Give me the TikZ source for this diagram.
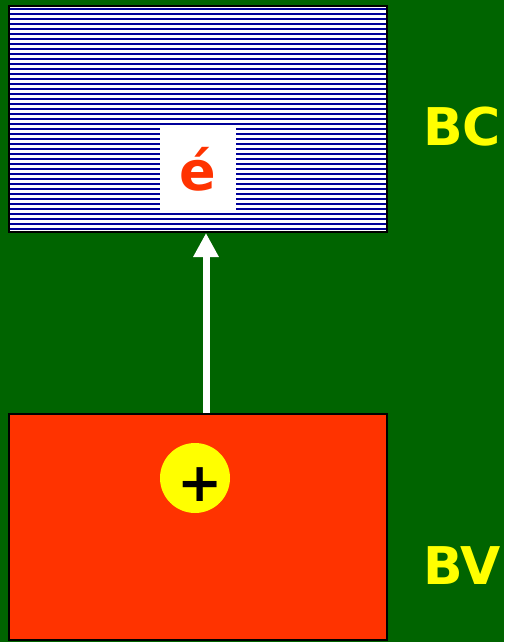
\documentclass[tikz,border=0pt]{standalone}
\usepackage{fontspec}
\setmainfont{DejaVu Sans}
\usetikzlibrary{arrows.meta,positioning}

\definecolor{fieldgreen}{RGB}{0,100,0}
\definecolor{bandred}{RGB}{255,51,0}
\definecolor{stripeblue}{RGB}{0,0,153}
\definecolor{signyellow}{RGB}{255,255,0}

\begin{document}
\begin{tikzpicture}[x=1pt, y=-1pt,
    band/.style={rectangle, draw=black, line width=2pt, minimum width=378pt, minimum height=226pt, inner sep=0pt},
    bandlabel/.style={font=\bfseries\fontsize{52}{52}\selectfont, text=signyellow, inner sep=0pt},
    arrow/.style={-{Triangle[width=24pt,length=24pt]}, line width=7pt, draw=white}
]
\fill[fieldgreen] (0,0) rectangle (504,642);
\useasboundingbox (0,0) rectangle (504,642);

% conduction band, striped
\node[band, fill=white, path picture={
    \foreach \k in {0,...,44}
      \draw[stripeblue, line width=2.4pt] ([yshift=-3pt-5*\k pt]path picture bounding box.north west) -- ++(380,0);
  }] (bc) at (198,119) {};
\node[rectangle, fill=white, minimum width=76pt, minimum height=84pt, inner sep=0pt,
      font=\bfseries\fontsize{54}{54}\selectfont, text=bandred] (elec) at (198,169) {é};

% valence band with the hole
\node[band, fill=bandred] (bv) at (198,527) {};
\node[circle, fill=signyellow, minimum size=70pt, inner sep=0pt] (hole) at (195,478) {};
\node[font=\bfseries\fontsize{54}{54}\selectfont, inner sep=0pt] (plus) at (200,485) {+};

\node[bandlabel] (bclabel) at (462,127) {BC};
\node[bandlabel] (bvlabel) at (462,566) {BV};

\coordinate (tail) at (206,413);
\draw[arrow] (tail) -- (tail |- bc.south);
\end{tikzpicture}
\end{document}
